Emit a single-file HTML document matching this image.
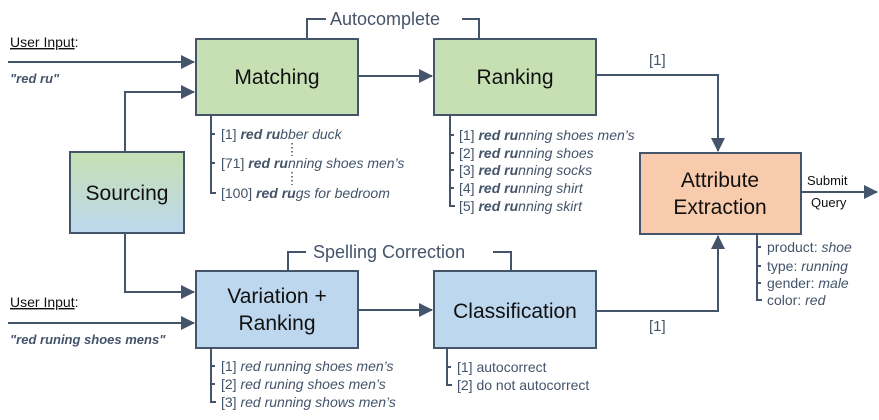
<!DOCTYPE html>
<html><head><meta charset="utf-8"><style>
html,body{margin:0;padding:0;background:#fff;}
svg{display:block;}
text{font-family:"Liberation Sans","DejaVu Sans",sans-serif;}
.bx{font-size:21px;fill:#111;text-anchor:middle;}
.ls{font-size:14px;fill:#44546a;}
.lb{font-size:14px;fill:#44546a;font-style:italic;}
.bb{font-weight:bold;}
</style></head><body>
<svg width="879" height="420" viewBox="0 0 879 420" xmlns="http://www.w3.org/2000/svg">
<defs>
<linearGradient id="g" x1="0" y1="0" x2="0" y2="1"><stop offset="0" stop-color="#c6e0b4"/><stop offset="1" stop-color="#bdd7ee"/></linearGradient>
<marker id="ab" markerWidth="14" markerHeight="14" refX="13" refY="7" orient="auto" markerUnits="userSpaceOnUse"><path d="M0,0 L14,7 L0,14 z" fill="#44546a"/></marker>
</defs>
<g stroke="#44546a" stroke-width="2" fill="none">
<line x1="8" y1="62" x2="194" y2="62" marker-end="url(#ab)"/>
<polyline points="125,152 125,92 194,92" marker-end="url(#ab)"/>
<line x1="358" y1="76" x2="432" y2="76" marker-end="url(#ab)"/>
<polyline points="596,75 718,75 718,151" marker-end="url(#ab)"/>
<polyline points="596,311 718,311 718,236" marker-end="url(#ab)"/>
<line x1="801" y1="192" x2="877" y2="192" marker-end="url(#ab)"/>
<polyline points="125,233 125,292 194,292" marker-end="url(#ab)"/>
<line x1="8" y1="323" x2="194" y2="323" marker-end="url(#ab)"/>
<line x1="358" y1="310" x2="432" y2="310" marker-end="url(#ab)"/>
<polyline points="307,39 307,19 326,19"/>
<polyline points="462,19 479,19 479,39"/>
<polyline points="288,271 288,252 306,252"/>
<polyline points="493,252 511,252 511,271"/>
<polyline points="211,115 211,193 216,193"/><line x1="211" y1="134" x2="215" y2="134"/><line x1="211" y1="163" x2="215" y2="163"/>
<polyline points="450,115 450,206 455,206"/><line x1="450" y1="135" x2="454" y2="135"/><line x1="450" y1="153" x2="454" y2="153"/><line x1="450" y1="170" x2="454" y2="170"/><line x1="450" y1="188" x2="454" y2="188"/>
<polyline points="211,348 211,402 216,402"/><line x1="211" y1="366" x2="215" y2="366"/><line x1="211" y1="384" x2="215" y2="384"/>
<polyline points="447,348 447,385 452,385"/><line x1="447" y1="367" x2="451" y2="367"/>
<polyline points="757,234 757,300 762,300"/><line x1="757" y1="247" x2="761" y2="247"/><line x1="757" y1="266" x2="761" y2="266"/><line x1="757" y1="283" x2="761" y2="283"/>
<rect x="196" y="39" width="162" height="76" fill="#c6e0b4"/>
<rect x="434" y="39" width="162" height="76" fill="#c6e0b4"/>
<rect x="70" y="152" width="114" height="81" fill="url(#g)"/>
<rect x="196" y="271" width="162" height="77" fill="#bdd7ee"/>
<rect x="434" y="271" width="162" height="77" fill="#bdd7ee"/>
<rect x="640" y="153" width="161" height="81" fill="#f8cbad"/>
</g>
<g stroke="#44546a" stroke-width="1.5" stroke-dasharray="1.5,2.5"><line x1="292" y1="143" x2="292" y2="156"/><line x1="292" y1="172" x2="292" y2="185"/></g>
<text class="bx" x="277" y="84">Matching</text>
<text class="bx" x="515" y="84">Ranking</text>
<text class="bx" x="127" y="200">Sourcing</text>
<text class="bx" x="277" y="303">Variation +</text>
<text class="bx" x="277" y="330">Ranking</text>
<text class="bx" x="515" y="318">Classification</text>
<text class="bx" x="720" y="187">Attribute</text>
<text class="bx" x="720" y="214">Extraction</text>
<text x="330" y="25" font-size="18" fill="#44546a">Autocomplete</text>
<text x="313" y="258" font-size="18" fill="#44546a">Spelling Correction</text>
<text x="649" y="65" font-size="15" fill="#44546a">[1]</text>
<text x="649" y="331" font-size="15" fill="#44546a">[1]</text>
<text x="807" y="185" font-size="13" fill="#111">Submit</text>
<text x="811" y="207" font-size="13" fill="#111">Query</text>
<text x="10" y="47" font-size="14" fill="#111"><tspan text-decoration="underline">User Input</tspan>:</text>
<text x="10" y="83" font-size="13" fill="#44546a" font-style="italic" font-weight="bold">"red ru"</text>
<text x="10" y="307" font-size="14" fill="#111"><tspan text-decoration="underline">User Input</tspan>:</text>
<text x="10" y="344" font-size="13" fill="#44546a" font-style="italic" font-weight="bold">"red runing shoes mens"</text>
<text class="ls" x="221" y="139">[1] <tspan class="lb bb">red ru</tspan><tspan class="lb">bber duck</tspan></text>
<text class="ls" x="221" y="168">[71] <tspan class="lb bb">red ru</tspan><tspan class="lb">nning shoes men’s</tspan></text>
<text class="ls" x="221" y="198">[100] <tspan class="lb bb">red ru</tspan><tspan class="lb">gs for bedroom</tspan></text>
<text class="ls" x="459" y="140">[1] <tspan class="lb bb">red ru</tspan><tspan class="lb">nning shoes men’s</tspan></text>
<text class="ls" x="459" y="158">[2] <tspan class="lb bb">red ru</tspan><tspan class="lb">nning shoes</tspan></text>
<text class="ls" x="459" y="175">[3] <tspan class="lb bb">red ru</tspan><tspan class="lb">nning socks</tspan></text>
<text class="ls" x="459" y="193">[4] <tspan class="lb bb">red ru</tspan><tspan class="lb">nning shirt</tspan></text>
<text class="ls" x="459" y="211">[5] <tspan class="lb bb">red ru</tspan><tspan class="lb">nning skirt</tspan></text>
<text class="ls" x="221" y="371">[1] <tspan class="lb">red running shoes men’s</tspan></text>
<text class="ls" x="221" y="389">[2] <tspan class="lb">red runing shoes men’s</tspan></text>
<text class="ls" x="221" y="407">[3] <tspan class="lb">red running shows men’s</tspan></text>
<text class="ls" x="457" y="372">[1] autocorrect</text>
<text class="ls" x="457" y="390">[2] do not autocorrect</text>
<text class="ls" x="767" y="252">product: <tspan class="lb">shoe</tspan></text>
<text class="ls" x="767" y="271">type: <tspan class="lb">running</tspan></text>
<text class="ls" x="767" y="288">gender: <tspan class="lb">male</tspan></text>
<text class="ls" x="767" y="305">color: <tspan class="lb">red</tspan></text>
</svg>
</body></html>
